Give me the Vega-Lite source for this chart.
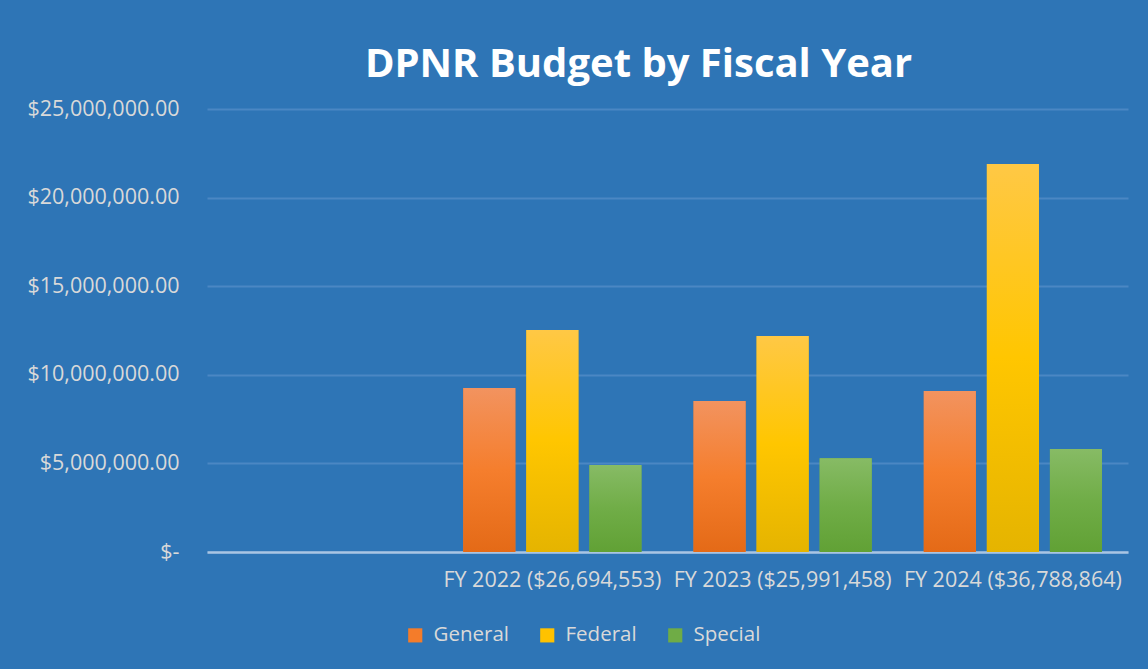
{
  "$schema": "https://vega.github.io/schema/vega-lite/v6.json",
  "width": 921,
  "height": 443,
  "padding": {"left": 26, "top": 45, "right": 20, "bottom": 24},
  "background": "#2E75B6",
  "title": {
    "text": "DPNR Budget by Fiscal Year",
    "color": "#FFFFFF",
    "font": "Open Sans",
    "fontSize": 40,
    "fontWeight": "bold",
    "anchor": "middle",
    "frame": "group",
    "dx": -29,
    "offset": 13
  },
  "data": {
    "values": [
      {"year": "FY 2022 ($26,694,553)", "fund": "General", "amount": 9250000},
      {"year": "FY 2022 ($26,694,553)", "fund": "Federal", "amount": 12530000},
      {"year": "FY 2022 ($26,694,553)", "fund": "Special", "amount": 4910000},
      {"year": "FY 2023 ($25,991,458)", "fund": "General", "amount": 8520000},
      {"year": "FY 2023 ($25,991,458)", "fund": "Federal", "amount": 12190000},
      {"year": "FY 2023 ($25,991,458)", "fund": "Special", "amount": 5290000},
      {"year": "FY 2024 ($36,788,864)", "fund": "General", "amount": 9090000},
      {"year": "FY 2024 ($36,788,864)", "fund": "Federal", "amount": 21890000},
      {"year": "FY 2024 ($36,788,864)", "fund": "Special", "amount": 5810000}
    ]
  },
  "encoding": {
    "x": {
      "field": "year",
      "type": "nominal",
      "sort": null,
      "scale": {
        "domain": ["", "FY 2022 ($26,694,553)", "FY 2023 ($25,991,458)", "FY 2024 ($36,788,864)"],
        "paddingInner": 0,
        "paddingOuter": 0
      },
      "axis": {
        "title": null,
        "labelAngle": 0,
        "labelFont": "Open Sans",
        "labelFontSize": 21.5,
        "labelLimit": 0,
        "labelColor": "#D9D9D9",
        "labelPadding": 17,
        "ticks": false,
        "domainColor": "#A9C5E3",
        "domainWidth": 2.5,
        "grid": false
      }
    },
    "xOffset": {
      "field": "fund",
      "type": "nominal",
      "sort": ["General", "Federal", "Special"],
      "scale": {"domain": ["General", "Federal", "Special"], "paddingInner": 0.175, "paddingOuter": 0.413}
    },
    "y": {
      "field": "amount",
      "type": "quantitative",
      "scale": {"domain": [0, 25000000], "nice": false},
      "axis": {
        "title": null,
        "values": [0, 5000000, 10000000, 15000000, 20000000, 25000000],
        "labelExpr": "datum.value === 0 ? '$-\u2007' : format(datum.value, '$,.2f')",
        "labelFont": "Open Sans",
        "labelFontSize": 21.5,
        "labelLimit": 0,
        "labelColor": "#D9D9D9",
        "labelPadding": 28,
        "ticks": false,
        "domain": false,
        "gridColor": "#4B87C3",
        "gridWidth": 2
      }
    }
  },
  "layer": [
    {
      "mark": {"type": "bar"},
      "encoding": {
        "color": {
          "field": "fund",
          "type": "nominal",
          "sort": ["General", "Federal", "Special"],
          "scale": {
            "domain": ["General", "Federal", "Special"],
            "range": ["#F47C2A", "#FFC200", "#6FAC46"]
          },
          "legend": {
            "title": null,
            "orient": "none",
            "legendX": 198,
            "legendY": 516,
            "direction": "horizontal",
            "symbolType": "square",
            "symbolSize": 200,
            "symbolStrokeWidth": 0,
            "symbolOpacity": 1,
            "labelFont": "Open Sans",
            "labelFontSize": 20.5,
            "labelColor": "#D9D9D9",
            "labelOffset": 8,
            "columnPadding": 28
          }
        }
      }
    },
    {
      "transform": [{"filter": "datum.fund === 'General'"}],
      "mark": {"type": "bar", "color": {"gradient": "linear", "x1": 0, "y1": 0, "x2": 0, "y2": 1, "stops": [{"offset": 0, "color": "#F2935F"}, {"offset": 0.5, "color": "#F57E2D"}, {"offset": 1, "color": "#E46A17"}]}}
    },
    {
      "transform": [{"filter": "datum.fund === 'Federal'"}],
      "mark": {"type": "bar", "color": {"gradient": "linear", "x1": 0, "y1": 0, "x2": 0, "y2": 1, "stops": [{"offset": 0, "color": "#FFC845"}, {"offset": 0.5, "color": "#FFC600"}, {"offset": 1, "color": "#E5B400"}]}}
    },
    {
      "transform": [{"filter": "datum.fund === 'Special'"}],
      "mark": {"type": "bar", "color": {"gradient": "linear", "x1": 0, "y1": 0, "x2": 0, "y2": 1, "stops": [{"offset": 0, "color": "#87BB65"}, {"offset": 0.5, "color": "#70AD47"}, {"offset": 1, "color": "#61A135"}]}}
    }
  ],
  "config": {
    "view": {"stroke": null}
  }
}
